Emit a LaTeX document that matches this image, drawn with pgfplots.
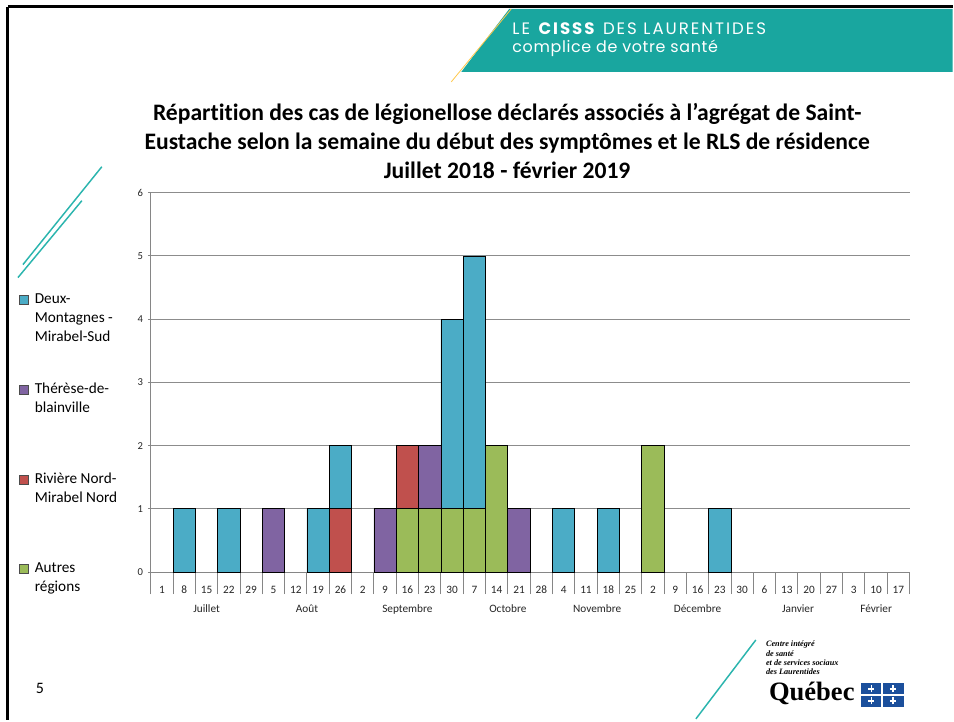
\documentclass[border=0pt]{standalone}
\usepackage{pgfplots}
\usepackage{pgfplotstable}
\pgfplotsset{compat=1.18}
\usepackage{fontspec}
\setmainfont{Carlito}[Ligatures=CommonOff]
\newfontfamily\poppins{Poppins}
\newfontfamily\qserif{Liberation Serif}
\definecolor{dm}{HTML}{4BACC6}
\definecolor{tb}{HTML}{8064A2}
\definecolor{rn}{HTML}{C0504D}
\definecolor{ar}{HTML}{9BBB59}
\definecolor{teal}{HTML}{19A69F}
\definecolor{tealline}{HTML}{2BB5AE}
\definecolor{gridgray}{HTML}{8C8C8C}
\definecolor{axgray}{HTML}{868686}
\definecolor{qblue}{HTML}{1B4F9C}
\tikzset{month/.style={font=\fontsize{8.5}{10}\selectfont, text=black!85, anchor=base, yshift=-30bp}}
\pgfplotsset{layers/mylayers/.define layer set={axis background,axis grid,main,axis ticks,axis lines,axis tick labels,axis descriptions,axis foreground}{}}
\pgfplotstableread{
idx AR RN TB DM
0  0 0 0 0
1  0 0 0 1
2  0 0 0 0
3  0 0 0 1
4  0 0 0 0
5  0 0 1 0
6  0 0 0 0
7  0 0 0 1
8  0 1 0 1
9  0 0 0 0
10 0 0 1 0
11 1 1 0 0
12 1 0 1 0
13 1 0 0 3
14 1 0 0 4
15 2 0 0 0
16 0 0 1 0
17 0 0 0 0
18 0 0 0 1
19 0 0 0 0
20 0 0 0 1
21 0 0 0 0
22 2 0 0 0
23 0 0 0 0
24 0 0 0 0
25 0 0 0 1
26 0 0 0 0
27 0 0 0 0
28 0 0 0 0
29 0 0 0 0
30 0 0 0 0
31 0 0 0 0
32 0 0 0 0
33 0 0 0 0
}\datatable
\begin{document}
\begin{tikzpicture}[x=0.75bp,y=0.75bp]
\fill[white] (0,0) rectangle (954,721);
% header band
\fill[teal] (510,712) -- (954,712) -- (954,649) -- (462,649) -- cycle;
\draw[orange!60!yellow!70, line width=0.6bp] (452,639) -- (512,712);
\node[anchor=west, text=white, font=\poppins\fontsize{12.5}{14}\selectfont\addfontfeatures{LetterSpace=12}, inner sep=0] at (513,692) {LE \textbf{CISSS} DES LAURENTIDES};
\node[anchor=west, text=white, font=\poppins\fontsize{12}{14}\selectfont\addfontfeatures{LetterSpace=4}, inner sep=0] at (513,673) {complice de votre santé};
% borders
\draw[line width=2.25bp] (8,714) -- (954,714);
\draw[line width=2.25bp] (8,714) -- (8,0);
% decorative lines
\draw[tealline, line width=1.1bp] (23,456) -- (102,554);
\draw[tealline, line width=1.1bp] (18,443) -- (82,520);
\draw[tealline, line width=1.1bp] (697,1) -- (757,80);
% title
\node[align=center, font=\bfseries\fontsize{17.8}{21.75}\selectfont] at (508,580) {Répartition des cas de légionellose déclarés associés à l’agrégat de Saint-\\Eustache selon la semaine du début des symptômes et le RLS de résidence\\Juillet 2018 - février 2019};
% page number
\node[font=\fontsize{12}{14}\selectfont] at (40,31) {5};
% Quebec logo
\node[anchor=north west, align=left, inner sep=0, font=\qserif\bfseries\itshape\fontsize{6.2}{6.9}\selectfont] at (767,79) {Centre intégré\\de santé\\et de services sociaux\\des Laurentides};
\node[anchor=base west, inner sep=0, font=\qserif\bfseries\fontsize{20}{24}\selectfont] at (770,19) {Québec};
\fill[qblue] (862,13) rectangle (905,37);
\draw[white, line width=1.2bp] (883.5,13) -- (883.5,37) (862,25) -- (905,25);
\foreach \cx/\cy in {872.75/31,894.25/31,872.75/19,894.25/19}{
  \draw[white, line width=1bp] (\cx-3,\cy) -- (\cx+3,\cy) (\cx,\cy-3.5) -- (\cx,\cy+3.5);
}
\begin{axis}[
  set layers=mylayers,
  at={(113.25bp,111bp)}, anchor=south west,
  scale only axis, width=570bp, height=285bp,
  xmin=-0.5, xmax=33.5, ymin=0, ymax=6,
  ybar stacked, bar width=1,
  axis lines=left,
  axis line style={-, draw=axgray, line width=0.75bp},
  tick align=outside,
  major tick length=2.25bp,
  ytick={0,1,2,3,4,5,6},
  ymajorgrids,
  major grid style={draw=gridgray, line width=0.75bp},
  ytick style={draw=axgray, line width=0.75bp},
  yticklabel style={font=\fontsize{8}{9}\selectfont, text=black!85},
  /pgf/number format/assume math mode=true,
  xtick={-0.5,0.5,...,32.5},
  xticklabels={1,8,15,22,29,5,12,19,26,2,9,16,23,30,7,14,21,28,4,11,18,25,2,9,16,23,30,6,13,20,27,3,10,17},
  xticklabel style={font=\fontsize{8.5}{10}\selectfont, text=black!85, anchor=center, xshift=8.382bp, yshift=-11.25bp},
  xtick style={draw=axgray, line width=0.75bp, /pgfplots/major tick length=16.5bp},
  extra x ticks={-0.5,4.5,8.5,13.5,17.5,21.5,26.5,30.5,33.5},
  extra x tick labels={},
  extra x tick style={grid=none, /pgfplots/major tick length=31.5bp, xtick style={draw=axgray, line width=0.75bp}},
  clip=false,
  reverse legend,
  legend style={draw=none, fill=none, at={(-0.179,0.745)}, anchor=north west,
    font=\fontsize{11.5}{14.25}\selectfont, row sep=29.25bp,
    cells={anchor=base west}, nodes={inner sep=1pt, text depth=},
    /tikz/every odd column/.append style={column sep=3.5bp}},
  sq/.style={legend image code/.code={\draw[##1,draw=black!70,line width=0.5pt] (0bp,-0.3bp) rectangle (6.75bp,6.45bp);}},
]
\addplot[fill=ar, draw=black, line width=0.6pt, sq] table[x=idx,y=AR]{\datatable};
\addlegendentry{\parbox[t]{80bp}{Autres\\régions\\\mbox{}}}
\addplot[fill=rn, draw=black, line width=0.6pt, sq] table[x=idx,y=RN]{\datatable};
\addlegendentry{\parbox[t]{80bp}{Rivière Nord-\\Mirabel Nord\\\mbox{}}}
\addplot[fill=tb, draw=black, line width=0.6pt, sq] table[x=idx,y=TB]{\datatable};
\addlegendentry{\parbox[t]{80bp}{Thérèse-de-\\blainville\\\mbox{}}}
\addplot[fill=dm, draw=black, line width=0.6pt, sq] table[x=idx,y=DM]{\datatable};
\addlegendentry{\parbox[t]{80bp}{Deux-\\Montagnes -\\Mirabel-Sud}}
\node[month] at (axis cs:2,0) {Juillet};
\node[month] at (axis cs:6.5,0) {Août};
\node[month] at (axis cs:11,0) {Septembre};
\node[month] at (axis cs:15.5,0) {Octobre};
\node[month] at (axis cs:19.5,0) {Novembre};
\node[month] at (axis cs:24,0) {Décembre};
\node[month] at (axis cs:28.5,0) {Janvier};
\node[month] at (axis cs:32,0) {Février};
\end{axis}
\end{tikzpicture}
\end{document}
